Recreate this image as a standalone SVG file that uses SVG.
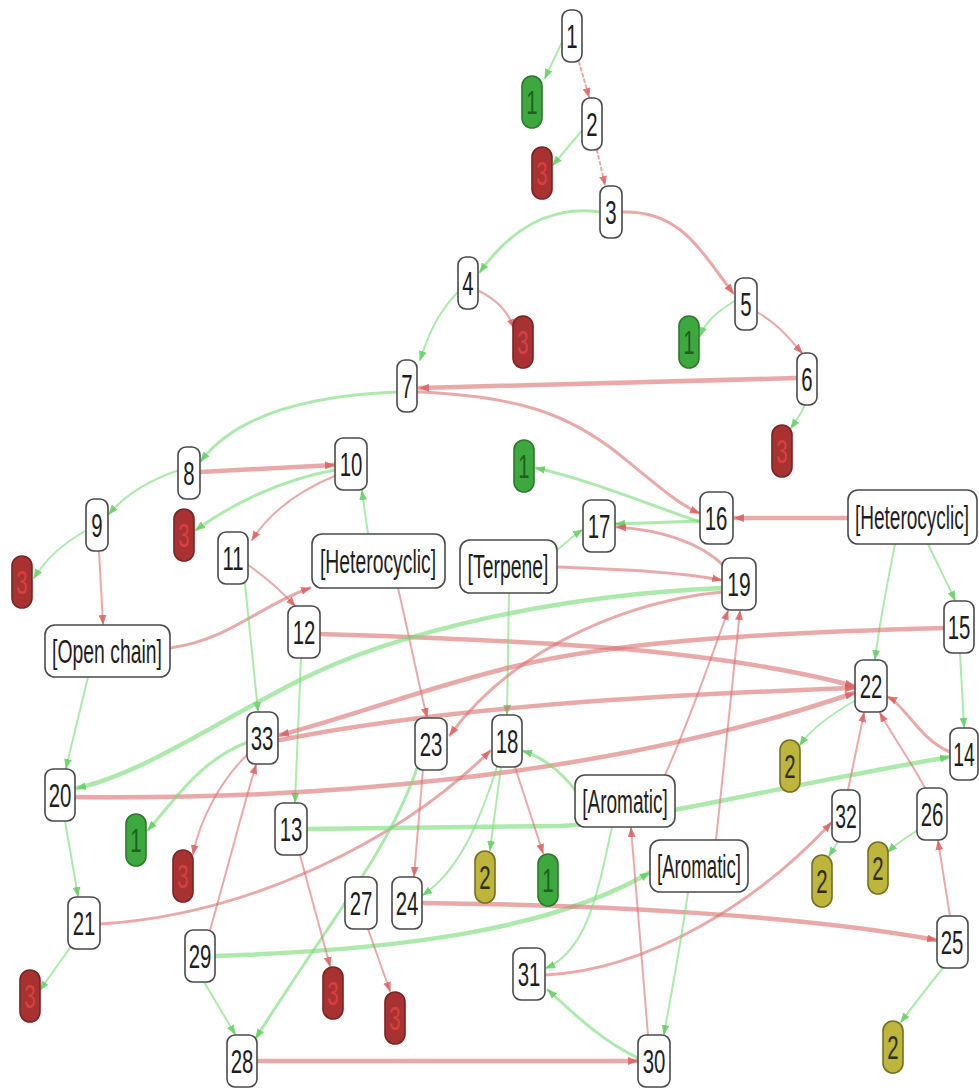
<svg xmlns="http://www.w3.org/2000/svg" width="979" height="1088" viewBox="0 0 979 1088">
<style>
.e{fill:none;stroke-linecap:round}
.r{stroke:#dc6f6f;stroke-opacity:0.6;marker-end:url(#ar)}
.g{stroke:#74dc74;stroke-opacity:0.6;marker-end:url(#ag)}
.t1{stroke-width:2}
.t2{stroke-width:3}
.t3{stroke-width:4.5}
.d{stroke-dasharray:3 3}
.nb rect{fill:#fff;stroke:#4a4a4a;stroke-width:1.6}
.nb text,.cg text,.cr text,.cy text{font-family:"Liberation Sans",Arial,sans-serif;font-size:34px;text-anchor:middle}
.nb text{fill:#1e1e1e}
.cg rect{fill:#3da83d;stroke:#2b7a2b;stroke-width:1.6}
.cg text{fill:#1f5f1f}
.cr rect{fill:#a83232;stroke:#7a2424;stroke-width:1.6}
.cr text{fill:#d84040}
.cy rect{fill:#bdb53c;stroke:#75701f;stroke-width:1.6}
.cy text{fill:#2e2e10}
</style>
<defs>
<marker id="ar" markerUnits="userSpaceOnUse" markerWidth="10" markerHeight="8" refX="9" refY="4" orient="auto"><path d="M0,0 L10,4 L0,8 z" fill="#d95a5a" fill-opacity="0.8"/></marker>
<marker id="ag" markerUnits="userSpaceOnUse" markerWidth="10" markerHeight="8" refX="9" refY="4" orient="auto"><path d="M0,0 L10,4 L0,8 z" fill="#5ccc5c" fill-opacity="0.8"/></marker>
</defs>
<rect width="979" height="1088" fill="#fff"/>
<g id="connectors">
<path class="e g t1" d="M563,40 L545,78"/>
<path class="e r t1 d" d="M579,62 L589,97"/>
<path class="e g t1" d="M584,128 L553,165"/>
<path class="e r t1 d" d="M597,150 L605,185"/>
<path class="e g t2" d="M600,212 C550,205 510,230 480,272"/>
<path class="e r t2" d="M622,212 C680,210 700,250 733,293"/>
<path class="e r t1" d="M477,290 C498,300 508,312 514,328"/>
<path class="e g t1" d="M458,292 C440,310 430,330 420,360"/>
<path class="e g t1" d="M736,300 C720,310 706,320 700,336"/>
<path class="e r t1" d="M757,312 C780,325 790,340 802,353"/>
<path class="e r t3" d="M797,378 L420,388"/>
<path class="e g t1" d="M805,405 C801,414 796,421 791,428"/>
<path class="e g t2" d="M397,392 C320,395 240,410 201,461"/>
<path class="e r t2" d="M418,392 C520,396 570,415 620,455 C660,488 680,505 699,513"/>
<path class="e g t1" d="M179,470 C150,480 125,495 109,514"/>
<path class="e r t3" d="M200,472 L334,465"/>
<path class="e g t2" d="M335,470 C280,480 230,505 196,530"/>
<path class="e r t1" d="M337,475 C300,490 270,512 252,540"/>
<path class="e g t1" d="M368,534 L362,491"/>
<path class="e g t1" d="M87,530 C60,545 45,560 34,578"/>
<path class="e r t1" d="M99,551 L103,624"/>
<path class="e r t2" d="M170,648 C230,640 260,605 310,588"/>
<path class="e g t1" d="M88,677 L66,768"/>
<path class="e r t1" d="M248,565 C270,580 285,595 295,606"/>
<path class="e g t1" d="M245,584 L258,711"/>
<path class="e g t1" d="M301,658 L295,802"/>
<path class="e r t3" d="M320,634 C500,640 700,645 854,686"/>
<path class="e r t1" d="M398,588 C410,640 420,690 427,717"/>
<path class="e g t1" d="M557,550 C568,541 574,535 582,530"/>
<path class="e r t2" d="M557,567 C630,570 680,572 721,580"/>
<path class="e g t1" d="M509,593 L507,714"/>
<path class="e g t2" d="M700,522 C650,505 590,480 536,468"/>
<path class="e g t2" d="M700,521 L616,524"/>
<path class="e r t2" d="M724,566 C700,542 660,530 617,527"/>
<path class="e r t3" d="M848,518 L735,518"/>
<path class="e g t1" d="M895,544 C888,580 880,620 875,659"/>
<path class="e g t1" d="M928,544 C938,565 948,585 955,600"/>
<path class="e g t1" d="M960,653 L964,727"/>
<path class="e g t3" d="M722,588 C560,595 400,630 300,680 C220,720 140,775 77,788"/>
<path class="e r t2" d="M722,592 C640,600 520,640 450,735"/>
<path class="e r t3" d="M944,628 C800,632 620,638 500,670 C420,690 340,720 280,735"/>
<path class="e r t3" d="M280,740 C420,712 600,697 854,688"/>
<path class="e r t3" d="M75,797 C300,800 600,780 854,693"/>
<path class="e r t2" d="M100,924 C250,915 400,840 490,751"/>
<path class="e g t3" d="M307,829 L560,826 C640,822 760,790 949,757"/>
<path class="e g t3" d="M215,956 C400,950 550,930 649,873"/>
<path class="e r t3" d="M422,903 C600,905 800,915 936,940"/>
<path class="e r t3" d="M257,1061 L637,1061"/>
<path class="e r t2" d="M545,975 C650,970 760,900 831,823"/>
<path class="e g t2" d="M638,1058 C600,1040 570,1010 548,990"/>
<path class="e g t1" d="M612,827 C600,880 590,950 546,968"/>
<path class="e r t1" d="M648,1035 L631,828"/>
<path class="e g t1" d="M688,892 C680,950 670,1000 664,1034"/>
<path class="e r t1" d="M665,775 C690,720 710,660 728,611"/>
<path class="e r t1" d="M716,840 L740,611"/>
<path class="e g t2" d="M575,790 C560,770 540,756 523,751"/>
<path class="e g t1" d="M501,767 L490,850"/>
<path class="e r t1" d="M515,767 L543,853"/>
<path class="e g t1" d="M497,767 C480,820 460,870 423,895"/>
<path class="e r t1" d="M423,770 L414,876"/>
<path class="e g t2" d="M418,765 C390,850 330,920 256,1038"/>
<path class="e r t1" d="M368,929 L390,991"/>
<path class="e r t1" d="M300,855 L330,966"/>
<path class="e r t1" d="M250,752 C220,780 200,820 193,854"/>
<path class="e g t2" d="M248,742 C200,760 175,800 148,830"/>
<path class="e r t1" d="M210,930 C230,860 245,800 256,765"/>
<path class="e g t1" d="M204,982 L235,1034"/>
<path class="e g t1" d="M65,821 L78,896"/>
<path class="e g t1" d="M72,945 L40,990"/>
<path class="e r t2" d="M950,752 C920,740 905,705 888,697"/>
<path class="e r t1" d="M848,790 L864,713"/>
<path class="e r t1" d="M925,788 C910,760 895,740 880,713"/>
<path class="e g t1" d="M856,700 C830,715 810,730 800,745"/>
<path class="e g t1" d="M838,842 L829,856"/>
<path class="e g t1" d="M918,830 C905,838 895,845 888,852"/>
<path class="e r t1" d="M950,916 L938,841"/>
<path class="e g t1" d="M943,968 C925,990 910,1010 901,1022"/>
</g>
<g id="n1" class="nb"><rect x="562" y="10" width="20" height="52" rx="8"/><text transform="translate(572,48) scale(0.6,1)">1</text></g>
<g id="g1a" class="cg"><rect x="522" y="76" width="20" height="52" rx="10"/><text transform="translate(532,114) scale(0.6,1)">1</text></g>
<g id="n2" class="nb"><rect x="582" y="98" width="20" height="52" rx="8"/><text transform="translate(592,136) scale(0.6,1)">2</text></g>
<g id="r3a" class="cr"><rect x="532" y="147" width="20" height="52" rx="10"/><text transform="translate(542,185) scale(0.6,1)">3</text></g>
<g id="n3" class="nb"><rect x="600" y="186" width="22" height="52" rx="8"/><text transform="translate(611,224) scale(0.6,1)">3</text></g>
<g id="n4" class="nb"><rect x="458" y="257" width="20" height="52" rx="8"/><text transform="translate(468,295) scale(0.6,1)">4</text></g>
<g id="r3b" class="cr"><rect x="513" y="316" width="20" height="52" rx="10"/><text transform="translate(523,354) scale(0.6,1)">3</text></g>
<g id="n5" class="nb"><rect x="735" y="278" width="22" height="52" rx="8"/><text transform="translate(746,316) scale(0.6,1)">5</text></g>
<g id="g1b" class="cg"><rect x="679" y="316" width="20" height="52" rx="10"/><text transform="translate(689,354) scale(0.6,1)">1</text></g>
<g id="n6" class="nb"><rect x="797" y="353" width="20" height="52" rx="8"/><text transform="translate(807,391) scale(0.6,1)">6</text></g>
<g id="n7" class="nb"><rect x="397" y="360" width="20" height="52" rx="8"/><text transform="translate(407,398) scale(0.6,1)">7</text></g>
<g id="r3c" class="cr"><rect x="772" y="425" width="20" height="52" rx="10"/><text transform="translate(782,463) scale(0.6,1)">3</text></g>
<g id="n8" class="nb"><rect x="178" y="447" width="22" height="52" rx="8"/><text transform="translate(189,485) scale(0.6,1)">8</text></g>
<g id="n9" class="nb"><rect x="86" y="499" width="22" height="52" rx="8"/><text transform="translate(97,537) scale(0.6,1)">9</text></g>
<g id="r3d" class="cr"><rect x="174" y="509" width="20" height="52" rx="10"/><text transform="translate(184,547) scale(0.6,1)">3</text></g>
<g id="r3e" class="cr"><rect x="12" y="556" width="20" height="52" rx="10"/><text transform="translate(22,594) scale(0.6,1)">3</text></g>
<g id="n10" class="nb"><rect x="335" y="438" width="32" height="52" rx="8"/><text transform="translate(351,476) scale(0.6,1)">10</text></g>
<g id="g1c" class="cg"><rect x="514" y="440" width="20" height="52" rx="10"/><text transform="translate(524,478) scale(0.6,1)">1</text></g>
<g id="n11" class="nb"><rect x="218" y="532" width="30" height="52" rx="8"/><text transform="translate(233,570) scale(0.6,1)">11</text></g>
<g id="hetM" class="nb"><rect x="312" y="534" width="133" height="54" rx="10"/><text transform="translate(378,573) scale(0.57,1)">[Heterocyclic]</text></g>
<g id="terp" class="nb"><rect x="460" y="540" width="97" height="53" rx="10"/><text transform="translate(508,578) scale(0.57,1)">[Terpene]</text></g>
<g id="n17" class="nb"><rect x="583" y="500" width="32" height="52" rx="8"/><text transform="translate(599,538) scale(0.6,1)">17</text></g>
<g id="n16" class="nb"><rect x="700" y="492" width="33" height="52" rx="8"/><text transform="translate(716,530) scale(0.6,1)">16</text></g>
<g id="hetR" class="nb"><rect x="848" y="490" width="129" height="54" rx="10"/><text transform="translate(912,529) scale(0.56,1)">[Heterocyclic]</text></g>
<g id="n19" class="nb"><rect x="722" y="558" width="34" height="52" rx="8"/><text transform="translate(739,596) scale(0.62,1)">19</text></g>
<g id="open" class="nb"><rect x="45" y="625" width="125" height="52" rx="10"/><text transform="translate(107,663) scale(0.57,1)">[Open chain]</text></g>
<g id="n12" class="nb"><rect x="288" y="606" width="32" height="52" rx="8"/><text transform="translate(304,644) scale(0.6,1)">12</text></g>
<g id="n15" class="nb"><rect x="944" y="601" width="30" height="52" rx="8"/><text transform="translate(959,639) scale(0.6,1)">15</text></g>
<g id="n22" class="nb"><rect x="855" y="660" width="32" height="52" rx="8"/><text transform="translate(871,698) scale(0.6,1)">22</text></g>
<g id="n33" class="nb"><rect x="247" y="712" width="31" height="52" rx="8"/><text transform="translate(262,750) scale(0.6,1)">33</text></g>
<g id="n23" class="nb"><rect x="415" y="718" width="32" height="52" rx="8"/><text transform="translate(431,756) scale(0.6,1)">23</text></g>
<g id="n18" class="nb"><rect x="492" y="715" width="30" height="52" rx="8"/><text transform="translate(507,753) scale(0.6,1)">18</text></g>
<g id="n20" class="nb"><rect x="45" y="769" width="30" height="52" rx="8"/><text transform="translate(60,807) scale(0.6,1)">20</text></g>
<g id="y2a" class="cy"><rect x="780" y="740" width="20" height="52" rx="10"/><text transform="translate(790,778) scale(0.6,1)">2</text></g>
<g id="n14" class="nb"><rect x="950" y="728" width="28" height="52" rx="8"/><text transform="translate(964,766) scale(0.57,1)">14</text></g>
<g id="arom1" class="nb"><rect x="575" y="775" width="100" height="52" rx="10"/><text transform="translate(625,813) scale(0.56,1)">[Aromatic]</text></g>
<g id="g1d" class="cg"><rect x="126" y="814" width="20" height="52" rx="10"/><text transform="translate(136,852) scale(0.6,1)">1</text></g>
<g id="n13" class="nb"><rect x="275" y="803" width="32" height="52" rx="8"/><text transform="translate(291,841) scale(0.6,1)">13</text></g>
<g id="n32" class="nb"><rect x="832" y="790" width="28" height="52" rx="8"/><text transform="translate(846,828) scale(0.57,1)">32</text></g>
<g id="n26" class="nb"><rect x="917" y="788" width="30" height="52" rx="8"/><text transform="translate(932,826) scale(0.6,1)">26</text></g>
<g id="r3f" class="cr"><rect x="173" y="850" width="20" height="52" rx="10"/><text transform="translate(183,888) scale(0.6,1)">3</text></g>
<g id="y2b" class="cy"><rect x="475" y="851" width="20" height="52" rx="10"/><text transform="translate(485,889) scale(0.6,1)">2</text></g>
<g id="g1e" class="cg"><rect x="538" y="854" width="20" height="52" rx="10"/><text transform="translate(548,892) scale(0.6,1)">1</text></g>
<g id="arom2" class="nb"><rect x="650" y="840" width="98" height="52" rx="10"/><text transform="translate(699,878) scale(0.55,1)">[Aromatic]</text></g>
<g id="y2c" class="cy"><rect x="812" y="855" width="20" height="52" rx="10"/><text transform="translate(822,893) scale(0.6,1)">2</text></g>
<g id="y2d" class="cy"><rect x="868" y="842" width="20" height="52" rx="10"/><text transform="translate(878,880) scale(0.6,1)">2</text></g>
<g id="n21" class="nb"><rect x="68" y="897" width="32" height="52" rx="8"/><text transform="translate(84,935) scale(0.6,1)">21</text></g>
<g id="n27" class="nb"><rect x="345" y="877" width="32" height="52" rx="8"/><text transform="translate(361,915) scale(0.6,1)">27</text></g>
<g id="n24" class="nb"><rect x="392" y="877" width="30" height="52" rx="8"/><text transform="translate(407,915) scale(0.6,1)">24</text></g>
<g id="n25" class="nb"><rect x="937" y="916" width="31" height="52" rx="8"/><text transform="translate(952,954) scale(0.6,1)">25</text></g>
<g id="n29" class="nb"><rect x="185" y="930" width="30" height="52" rx="8"/><text transform="translate(200,968) scale(0.6,1)">29</text></g>
<g id="n31" class="nb"><rect x="513" y="948" width="32" height="52" rx="8"/><text transform="translate(529,986) scale(0.6,1)">31</text></g>
<g id="r3g" class="cr"><rect x="20" y="970" width="20" height="52" rx="10"/><text transform="translate(30,1008) scale(0.6,1)">3</text></g>
<g id="r3h" class="cr"><rect x="323" y="967" width="20" height="52" rx="10"/><text transform="translate(333,1005) scale(0.6,1)">3</text></g>
<g id="r3i" class="cr"><rect x="385" y="992" width="20" height="52" rx="10"/><text transform="translate(395,1030) scale(0.6,1)">3</text></g>
<g id="y2e" class="cy"><rect x="883" y="1021" width="20" height="52" rx="10"/><text transform="translate(893,1059) scale(0.6,1)">2</text></g>
<g id="n28" class="nb"><rect x="227" y="1035" width="30" height="52" rx="8"/><text transform="translate(242,1073) scale(0.6,1)">28</text></g>
<g id="n30" class="nb"><rect x="638" y="1035" width="32" height="52" rx="8"/><text transform="translate(654,1073) scale(0.6,1)">30</text></g>
</svg>
